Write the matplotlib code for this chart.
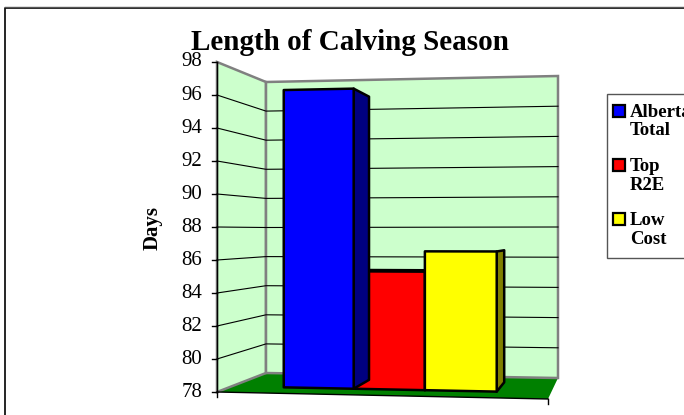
import matplotlib
matplotlib.use('Agg')
import matplotlib.pyplot as plt
from matplotlib.patches import Polygon, Rectangle

plt.rcParams['font.family'] = ['Liberation Serif', 'DejaVu Serif']

title = 'Length of Calving Season'
ylabel = 'Days'
yticks = list(range(78, 100, 2))
names = ['Alberta\nTotal', 'Top\nR2E', 'Low\nCost']
values = [96.55, 85.3, 86.5]
colors = ['#0000FF', '#FF0000', '#FFFF00']
side_colors = ['#000080', '#800000', '#808000']

# bar extents across the floor (fraction of width), bars sit side by side
bar_edges = [0.163, 0.382, 0.605, 0.83]
depth_front = 0.3
depth_back = 0.75

ymin, ymax = 78, 98

# pixel corners of the fake 3d box: (across, depth) -> (x, y bottom, y top)
corners = {
    (0, 0): (217, 392, 62),
    (0, 1): (266, 373, 82),
    (1, 0): (548, 399, 54),
    (1, 1): (558, 378, 76),
}


def project(f, d, v):
    # trilinear lookup from chart values to image pixels
    x_b, y_b, y_t = 0, 0, 0
    for (i, j), (cx, cb, ct) in corners.items():
        w = (f if i else 1 - f) * (d if j else 1 - d)
        x_b += w * cx
        y_b += w * cb
        y_t += w * ct
    t = (v - ymin) / (ymax - ymin)
    return x_b, y_b + (y_t - y_b) * t


fig = plt.figure(figsize=(6.84, 4.15), dpi=100)
ax = fig.add_axes([0, 0, 1, 1])
ax.set_xlim(0, 684)
ax.set_ylim(415, 0)
ax.axis('off')

GRAY = '#808080'

# walls and floor
left_wall = [project(0, 0, ymin), project(0, 1, ymin), project(0, 1, ymax), project(0, 0, ymax)]
back_wall = [project(0, 1, ymin), project(1, 1, ymin), project(1, 1, ymax), project(0, 1, ymax)]
floor = [project(0, 0, ymin), project(1, 0, ymin), project(1, 1, ymin), project(0, 1, ymin)]
ax.add_patch(Polygon(floor, fc='#008000', ec='none', zorder=1))
ax.add_patch(Polygon(left_wall, fc='#CCFFCC', ec=GRAY, lw=1.8, zorder=1.5))
ax.add_patch(Polygon(back_wall, fc='#CCFFCC', ec=GRAY, lw=1.8, zorder=1.5))

# gridlines
for v in yticks[1:-1]:
    ax.plot(*zip(project(0, 0, v), project(0, 1, v), project(1, 1, v)), color='black', lw=0.8, zorder=2)

# axes lines and ticks
ax.plot(*zip(project(0, 0, ymin), project(0, 0, ymax)), color='black', lw=1, zorder=3)
ax.plot(*zip(project(0, 0, ymin), project(1, 0, ymin)), color='black', lw=1, zorder=3)
for v in yticks:
    x, y = project(0, 0, v)
    ax.plot([x - 5, x], [y, y], color='black', lw=1, zorder=3)
    ax.text(x - 14.5, y, str(v), ha='right', va='center', fontsize=15, zorder=3)
for f in [0, 1]:
    x, y = project(f, 0, ymin)
    ax.plot([x, x], [y, y + 5], color='black', lw=1, zorder=3)

# bars, blue last because its side covers the red front
for i in [1, 2, 0]:
    f0, f1 = bar_edges[i], bar_edges[i + 1]
    v = values[i]
    z = 5 if i == 0 else 4
    front = [project(f0, depth_front, ymin), project(f1, depth_front, ymin),
             project(f1, depth_front, v), project(f0, depth_front, v)]
    side = [project(f1, depth_front, ymin), project(f1, depth_back, ymin),
            project(f1, depth_back, v), project(f1, depth_front, v)]
    ax.add_patch(Polygon(side, fc=side_colors[i], ec='black', lw=1.8, joinstyle='round', zorder=z))
    ax.add_patch(Polygon(front, fc=colors[i], ec='black', lw=1.8, joinstyle='round', zorder=z))
    if i == 1:
        ax.plot(*zip(front[2], front[3]), color='black', lw=2.8, zorder=z)

# chart frame
ax.plot([5, 5, 684], [415, 8, 8], color='black', lw=1.2, zorder=6)
ax.plot([5, 684], [7, 7], color='#555555', lw=1, zorder=6)

ax.text(350, 49.5, title, ha='center', va='baseline', fontsize=21, fontweight='bold', zorder=7)
ax.text(153, 228, ylabel, rotation=90, ha='center', va='center', fontsize=15, fontweight='bold')

# legend
ax.add_patch(Rectangle((607, 94), 90, 164, fc='white', ec='#555555', lw=1, zorder=6))
leg_y = [121.5, 176, 230]
for name, c, y in zip(names, colors, leg_y):
    ax.add_patch(Rectangle((613, y - 17), 12, 12, fc=c, ec='black', lw=1.6, zorder=7))
    ax.text(630, y, name, ha='left', va='center', fontsize=13.5, fontweight='bold',
            linespacing=1.15, zorder=7)

fig.savefig('out.png', dpi=100)
